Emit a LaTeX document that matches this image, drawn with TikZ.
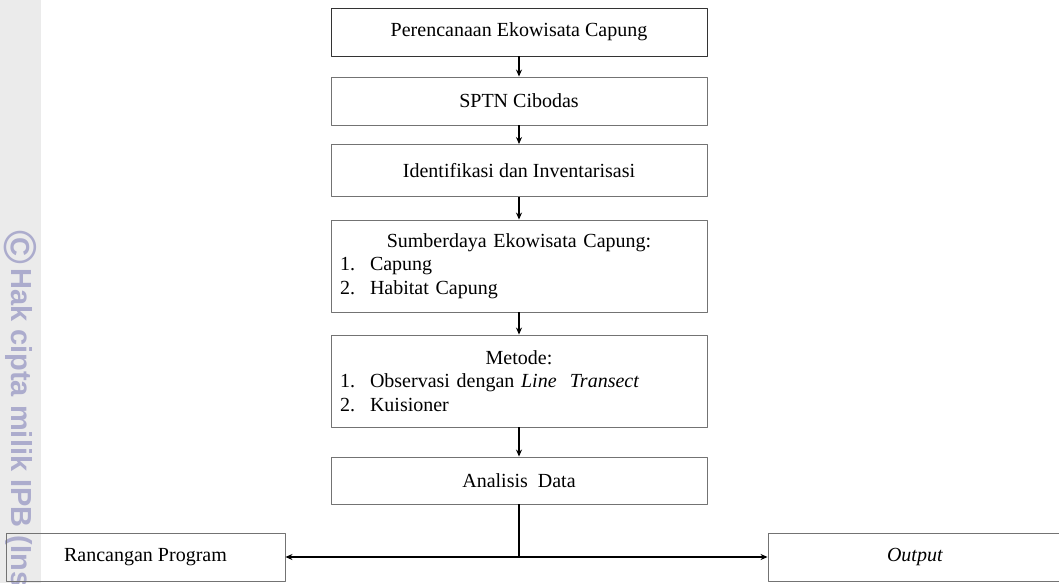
\documentclass[tikz,border=0pt]{standalone}
\usepackage{fontspec}
\setmainfont{Liberation Serif}
\newfontfamily\wmfont{Liberation Sans}
\usetikzlibrary{arrows.meta}
\definecolor{lembayung}{RGB}{172,172,205}
\begin{document}
\begin{tikzpicture}[x=1pt,y=-1pt,font=\fontsize{20}{23.5}\selectfont,line join=round,>={Stealth[length=7pt,width=6pt]}]
	\tikzset{kotak/.style={draw=black!55,line width=0.9pt,minimum width=376pt,inner xsep=9pt,inner ysep=4pt,align=center}}
	\tikzset{daftar/.style={kotak,text width=358pt,align=left,minimum height=92pt}}
	\tikzset{wm/.style={text=lembayung,rotate=-90,inner sep=0pt}}
	\useasboundingbox (0,0) rectangle (1059,583);
	\clip (0,0) rectangle (1059,583);
	% watermark strip
	\fill[black!8] (0,0) rectangle (41,583);
	\node[wm,font=\wmfont\bfseries\fontsize{46}{46}\selectfont] (hakcipta) at (20,247) {\textcopyright};
	\node[wm,font=\wmfont\bfseries\fontsize{29}{29}\selectfont,anchor=base west] (ipb) at (12,268) {Hak cipta milik IPB (Institut Pertanian Bogor)};
	% alur
	\node[kotak,draw=black!80,minimum height=48pt] (rencana) at (519,32) {Perencanaan Ekowisata Capung};
	\node[kotak,minimum height=48pt] (sptn) at (519,101) {SPTN Cibodas};
	\node[kotak,minimum height=52pt] (identifikasi) at (519,170.5) {Identifikasi dan Inventarisasi};
	\node[daftar] (sumber) at (519,266) {\makebox[\linewidth]{Sumberdaya Ekowisata Capung:}\\
		\makebox[30pt][l]{1.}Capung\\
		\makebox[30pt][l]{2.}Habitat Capung};
	\node[daftar] (metode) at (519,381) {\makebox[\linewidth]{Metode:}\\
		\makebox[30pt][l]{1.}Observasi dengan \textit{Line~ Transect}\\
		\makebox[30pt][l]{2.}Kuisioner};
	\node[kotak,minimum height=47pt] (analisis) at (519,480.5) {Analisis~ Data};
	\node[kotak,minimum width=279pt,minimum height=48pt] (rancangan) at (145.5,557) {Rancangan Program};
	\node[kotak,minimum width=294pt,minimum height=48pt] (output) at (915,557) {\textit{Output}};
	\foreach \a/\b in {rencana/sptn,sptn/identifikasi,identifikasi/sumber,sumber/metode,metode/analisis}
	\draw[->,line width=1.1pt] (\a) -- (\b);
	\coordinate (cabang) at (analisis.south |- rancangan.east);
	\draw[line width=1.1pt] (analisis) -- (cabang);
	\draw[->,line width=1.1pt] (cabang) -- (rancangan);
	\draw[->,line width=1.1pt] (cabang) -- (output);
\end{tikzpicture}
\end{document}
